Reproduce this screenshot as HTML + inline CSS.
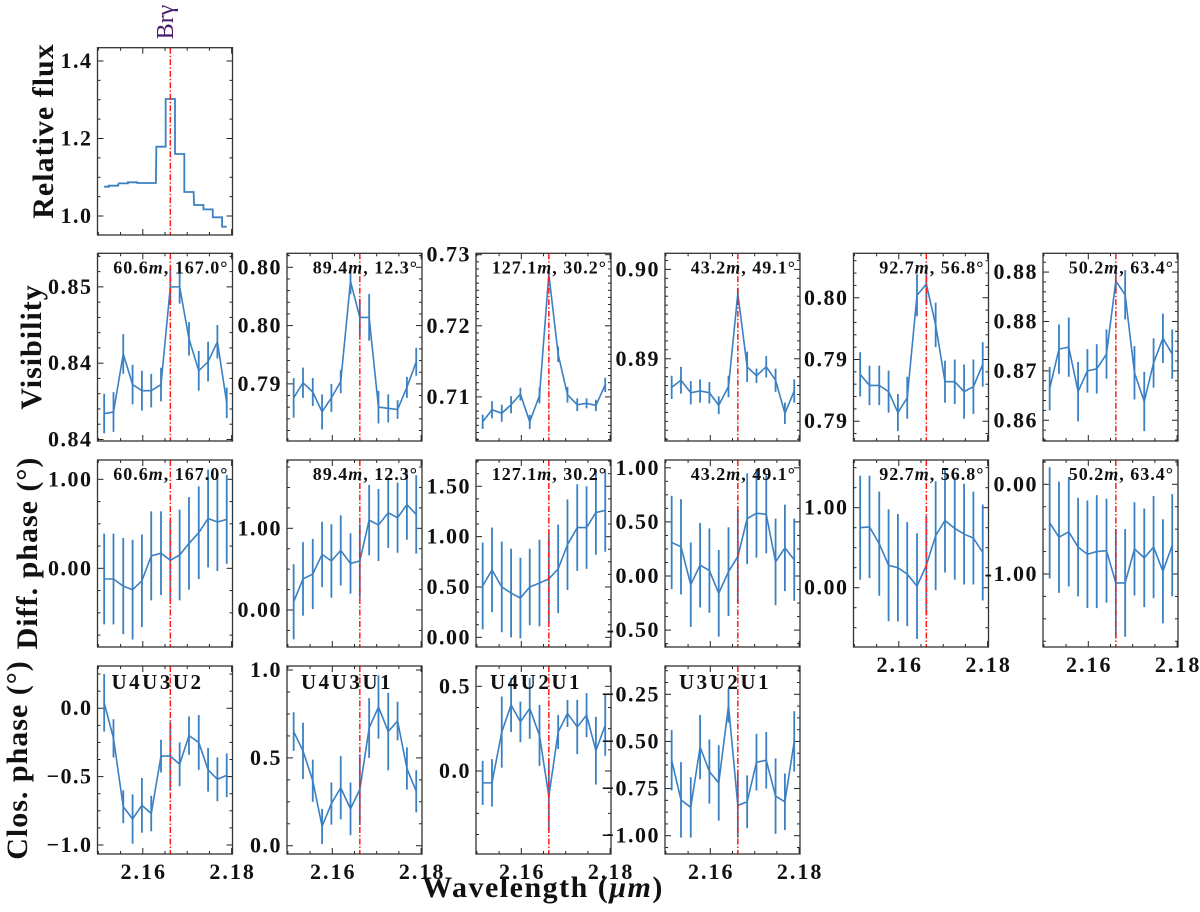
<!DOCTYPE html>
<html><head><meta charset="utf-8">
<style>
html,body{margin:0;padding:0;background:#fff;}
svg{display:block;}
text{font-family:"Liberation Serif",serif;font-weight:bold;fill:#111;}
</style></head>
<body>
<svg id="fig" width="1200" height="912" viewBox="0 0 1200 912" xmlns="http://www.w3.org/2000/svg"></svg>
<script>
// ---- data ----
const wavelengths = [2.1513,2.1534,2.1556,2.1577,2.1598,2.1619,2.1641,2.1662,2.1683,2.1704,2.1726,2.1747,2.1768,2.1789];
const fluxValues = [1.0757,1.0783,1.0843,1.0869,1.0852,1.0852,1.1789,1.3019,1.1600,1.0619,1.0284,1.0172,0.9966,0.9725];
const brGamma = 2.1662;
const baselineLabels = ["60.6m","89.4m","127.1m","43.2m","92.7m","50.2m"];
const angleLabels = ["167.0°","12.3°","30.2°","49.1°","56.8°","63.4°"];
const triangleLabels = ["U4U3U2","U4U3U1","U4U2U1","U3U2U1"];
const vis1 = [0.8417,0.8418,0.8456,0.8436,0.8432,0.8432,0.8436,0.8500,0.8500,0.8466,0.8445,0.8451,0.8464,0.8424];
const vis2 = [0.7938,0.7951,0.7943,0.7926,0.7938,0.7952,0.8038,0.8007,0.8007,0.7930,0.7929,0.7928,0.7947,0.7969];
const vis3 = [0.7065,0.7082,0.7077,0.7089,0.7104,0.7065,0.7102,0.7273,0.7160,0.7103,0.7089,0.7091,0.7088,0.7117];
const vis4 = [0.8868,0.8876,0.8862,0.8864,0.8862,0.8848,0.8869,0.8973,0.8891,0.8881,0.8891,0.8876,0.8839,0.8864];
const vis5 = [0.7938,0.7929,0.7929,0.7924,0.7907,0.7919,0.8002,0.8011,0.7978,0.7932,0.7932,0.7924,0.7928,0.7946];
const vis6 = [0.8732,0.8772,0.8774,0.8729,0.8750,0.8752,0.8767,0.8841,0.8827,0.8748,0.8719,0.8758,0.8783,0.8767];
const visErr1 = [0.0013,0.0013,0.0013,0.0013,0.0013,0.0011,0.0011,0.0012,0.0011,0.0011,0.0013,0.0013,0.0011,0.0010];
const visErr2 = [0.0017,0.0013,0.0012,0.0015,0.0012,0.0010,0.0011,0.0016,0.0020,0.0014,0.0012,0.0008,0.0009,0.0012];
const visErr3 = [0.0010,0.0012,0.0012,0.0012,0.0009,0.0010,0.0011,0.0008,0.0011,0.0011,0.0009,0.0007,0.0008,0.0010];
const visErr4 = [0.0013,0.0015,0.0013,0.0013,0.0012,0.0010,0.0012,0.0006,0.0017,0.0008,0.0012,0.0013,0.0012,0.0013];
const visErr5 = [0.0018,0.0016,0.0016,0.0017,0.0015,0.0017,0.0017,0.0016,0.0018,0.0017,0.0018,0.0022,0.0022,0.0018];
const visErr6 = [0.0022,0.0025,0.0030,0.0030,0.0022,0.0025,0.0025,0.0010,0.0025,0.0027,0.0030,0.0025,0.0025,0.0025];
const dphi1 = [-0.12,-0.12,-0.20,-0.24,-0.14,0.14,0.17,0.09,0.15,0.28,0.40,0.56,0.52,0.55];
const dphi2 = [0.10,0.38,0.44,0.68,0.60,0.73,0.57,0.60,1.10,1.04,1.19,1.13,1.29,1.17];
const dphi3 = [0.51,0.67,0.50,0.44,0.39,0.50,0.54,0.58,0.68,0.92,1.09,1.09,1.24,1.26];
const dphi4 = [0.31,0.27,-0.08,0.10,0.05,-0.16,0.04,0.18,0.53,0.58,0.57,0.13,0.26,0.15];
const dphi5 = [0.75,0.76,0.55,0.28,0.25,0.17,0.02,0.28,0.65,0.84,0.74,0.67,0.62,0.44];
const dphi6 = [-0.43,-0.59,-0.53,-0.70,-0.78,-0.75,-0.74,-1.10,-1.10,-0.72,-0.82,-0.70,-0.97,-0.68];
const dphiErr1 = [0.51,0.51,0.54,0.56,0.52,0.50,0.47,0.45,0.51,0.52,0.52,0.55,0.55,0.50];
const dphiErr2 = [0.46,0.45,0.43,0.40,0.45,0.43,0.37,0.45,0.43,0.44,0.43,0.43,0.43,0.48];
const dphiErr3 = [0.43,0.42,0.45,0.44,0.40,0.38,0.43,0.44,0.44,0.45,0.43,0.41,0.42,0.41];
const dphiErr4 = [0.43,0.44,0.39,0.39,0.39,0.40,0.41,0.43,0.42,0.41,0.36,0.40,0.40,0.38];
const dphiErr5 = [0.65,0.64,0.65,0.70,0.67,0.65,0.66,0.62,0.68,0.65,0.64,0.63,0.58,0.60];
const dphiErr6 = [0.62,0.62,0.61,0.55,0.60,0.63,0.58,0.60,0.60,0.52,0.55,0.57,0.58,0.57];
const cp1 = [0.04,-0.22,-0.72,-0.81,-0.71,-0.77,-0.35,-0.35,-0.41,-0.20,-0.25,-0.45,-0.52,-0.49];
const cp2 = [0.65,0.54,0.37,0.11,0.24,0.33,0.21,0.32,0.67,0.79,0.65,0.71,0.44,0.31];
const cp3 = [-0.07,-0.07,0.23,0.39,0.29,0.37,0.21,-0.15,0.23,0.34,0.26,0.33,0.12,0.27];
const cp4 = [-0.60,-0.81,-0.85,-0.53,-0.66,-0.72,-0.31,-0.84,-0.82,-0.61,-0.60,-0.79,-0.82,-0.50];
const cpErr1 = [0.21,0.14,0.12,0.18,0.20,0.13,0.12,0.25,0.16,0.14,0.20,0.16,0.16,0.16];
const cpErr2 = [0.11,0.16,0.12,0.10,0.12,0.18,0.15,0.20,0.17,0.18,0.22,0.11,0.12,0.12];
const cpErr3 = [0.13,0.14,0.21,0.16,0.12,0.18,0.18,0.20,0.10,0.08,0.16,0.13,0.20,0.18];
const cpErr4 = [0.16,0.20,0.16,0.17,0.17,0.20,0.09,0.17,0.14,0.15,0.15,0.20,0.15,0.16];
const xTicks = [2.16,2.18];
const xTickLabels = ["2.16","2.18"];
</script>
<script>
const svg = document.getElementById('fig');
const NS = 'http://www.w3.org/2000/svg';
const BLUE = '#3a80c2';
const XMIN = 2.1498, XMAX = 2.1802;
const colL = [97.5,287,476,665,853.5,1043];
const W = 135;
function mk(tag, attrs, parent){
  const e = document.createElementNS(NS, tag);
  for (const k in attrs) e.setAttribute(k, attrs[k]);
  (parent||svg).appendChild(e);
  return e;
}
function panel(o){
  const g = mk('g', {});
  
  
  const L=o.x, T=o.top, B=o.bottom, H=B-T;
  const xs = w => L + (w-XMIN)/(XMAX-XMIN)*W;
  const ys = v => B - (v-o.ymin)/(o.ymax-o.ymin)*H;
  const tk = mk('g', {stroke:'#222','stroke-width':1}, g);
  
  
  for (let w=2.15; w<=2.1801; w+=0.005){
    const major = Math.abs(w-2.16)<1e-6 || Math.abs(w-2.18)<1e-6;
    const len = major?6:3, X=xs(w);
    mk('line',{x1:X,y1:B,x2:X,y2:B-len},tk);
    mk('line',{x1:X,y1:T,x2:X,y2:T+len},tk);
  }
  const start = Math.ceil(o.ymin/o.minor-1e-6)*o.minor;
  for (let v=start; v<=o.ymax+1e-9; v+=o.minor){
    const major = o.yticks.some(t=>Math.abs(t-v)<o.minor*0.1);
    const len = major?6:3, Y=ys(v);
    mk('line',{x1:L,y1:Y,x2:L+len,y2:Y},tk);
    mk('line',{x1:L+W,y1:Y,x2:L+W-len,y2:Y},tk);
  }
  o.yticks.forEach((t,i)=>{
    const lab = mk('text',{x:L-5,y:ys(t)+7,'text-anchor':'end','font-size':22,'letter-spacing':1.5},g);
    lab.textContent = o.ylabels[i];
    
    
  });
  if (o.xlabels){
    xTicks.forEach((t,i)=>{
      const lab = mk('text',{x:xs(t)+1,y:B+25,'text-anchor':'middle','font-size':22,'letter-spacing':2},g);
      lab.textContent = xTickLabels[i];
      
      
    });
  }
  if (o.step){
    let d='';
    const half = (wavelengths[1]-wavelengths[0])/2;
    o.values.forEach((v,i)=>{
      const x0 = xs(wavelengths[i]-(i===0?0:half)), x1 = xs(wavelengths[i]+(i===o.values.length-1?0:half));
      d += (i===0?'M':'L')+x0+','+ys(v)+'L'+x1+','+ys(v);
    });
    const p = mk('path',{d:d,fill:'none',stroke:BLUE,'stroke-width':1.8},g);
    
    
  } else {
    o.values.forEach((v,i)=>{
      const X=xs(wavelengths[i]);
      const eb = mk('line',{x1:X,x2:X,y1:ys(v-o.err[i]),y2:ys(v+o.err[i]),stroke:BLUE,'stroke-width':1.8},g);
      
      
    });
    const pts = o.values.map((v,i)=>xs(wavelengths[i])+','+ys(v)).join(' ');
    const pl = mk('polyline',{points:pts,fill:'none',stroke:BLUE,'stroke-width':1.6},g);
    
    
  }
  const bl = mk('line',{x1:xs(brGamma),x2:xs(brGamma),y1:T,y2:B,stroke:'#ff1a1a','stroke-width':1.5,'stroke-dasharray':'6,2,1.5,2'},g);
  
  
  if (o.note){
    const t = mk('text',{x:L+W-4,y:T+20,'text-anchor':'end','font-size':18,'letter-spacing':1},g);
    
    
    const a = mk('tspan',{},t); a.textContent = o.note[0].slice(0,-1);
    const m = mk('tspan',{'font-style':'italic'},t); m.textContent = 'm';
    const c = mk('tspan',{},t); c.textContent = ', '+o.note[1];
  }
  if (o.tri){
    const t = mk('text',{x:L+14,y:T+23,'font-size':21,'letter-spacing':2.5},g);
    t.textContent = o.tri;
    
    
  }
  mk('rect',{x:L,y:T,width:W,height:H,fill:'none',stroke:'#333','stroke-width':1.3},g);
}
panel({name:'flux-panel',x:colL[0],top:47.7,bottom:235,ymin:0.951,ymax:1.4343,yticks:[1.4,1.2,1.0],ylabels:['1.4','1.2','1.0'],minor:0.05,values:fluxValues,step:true});
const visV=[vis1,vis2,vis3,vis4,vis5,vis6], visE=[visErr1,visErr2,visErr3,visErr4,visErr5,visErr6];
const visR=[[0.8399,0.8522],[0.7901,0.8062],[0.7038,0.7302],[0.8808,0.9018],[0.7884,0.8036],[0.8679,0.8869]];
const visT=[[0.850,0.845,0.840],[0.805,0.800,0.795],[0.73,0.72,0.71],[0.90,0.89],[0.800,0.795,0.790],[0.885,0.880,0.875,0.870]];
const visL=[['0.85','0.84','0.84'],['0.80','0.80','0.79'],['0.73','0.72','0.71'],['0.90','0.89'],['0.80','0.79','0.79'],['0.88','0.88','0.87','0.86']];
for (let c=0;c<6;c++) panel({name:'visibility-panel-'+(c+1),x:colL[c],top:253.3,bottom:441,ymin:visR[c][0],ymax:visR[c][1],yticks:visT[c],ylabels:visL[c],minor:0.001,values:visV[c],err:visE[c],note:[baselineLabels[c],angleLabels[c]]});
const dpV=[dphi1,dphi2,dphi3,dphi4,dphi5,dphi6], dpE=[dphiErr1,dphiErr2,dphiErr3,dphiErr4,dphiErr5,dphiErr6];
const dpR=[[-0.884,1.217],[-0.453,1.836],[-0.096,1.761],[-0.656,1.072],[-0.741,1.596],[-1.814,0.271]];
const dpT=[[1,0],[1,0],[1.5,1,0.5,0],[1,0.5,0,-0.5],[1,0],[0,-1]];
const dpL=[['1.00','0.00'],['1.00','0.00'],['1.50','1.00','0.50','0.00'],['1.00','0.50','0.00','-0.50'],['1.00','0.00'],['0.00','-1.00']];
const dpM=[0.25,0.25,0.125,0.125,0.25,0.25];
for (let c=0;c<6;c++) panel({name:'diff-phase-panel-'+(c+1),x:colL[c],top:460,bottom:647,ymin:dpR[c][0],ymax:dpR[c][1],yticks:dpT[c],ylabels:dpL[c],minor:dpM[c],values:dpV[c],err:dpE[c],note:[baselineLabels[c],angleLabels[c]],xlabels:c>=4});
const cpV=[cp1,cp2,cp3,cp4], cpE=[cpErr1,cpErr2,cpErr3,cpErr4];
const cpR=[[-1.066,0.309],[-0.047,1.023],[-0.49,0.62],[-1.097,-0.10]];
const cpT=[[0,-0.5,-1],[1,0.5,0],[0.5,0],[-0.25,-0.5,-0.75,-1.0]];
const cpL=[['0.0','−0.5','−1.0'],['1.0','0.5','0.0'],['0.5','0.0'],['−0.25','−0.50','−0.75','−1.00']];
const cpM=[0.125,0.125,0.125,0.0625];
for (let c=0;c<4;c++) panel({name:'closure-phase-panel-'+(c+1),x:colL[c],top:666,bottom:854,ymin:cpR[c][0],ymax:cpR[c][1],yticks:cpT[c],ylabels:cpL[c],minor:cpM[c],values:cpV[c],err:cpE[c],tri:triangleLabels[c],xlabels:true});
function title(txt,x,y,rot,name){
  const t = mk('text',{x:x,y:y,'text-anchor':'middle','font-size':30,'letter-spacing':1,transform:rot?('rotate(-90 '+x+' '+y+')'):''});
  t.textContent = txt;
  
  
}
title('Relative flux',53,131,true,'flux-axis-title');
title('Visibility',41,347,true,'visibility-axis-title');
title('Diff. phase (°)',37,553,true,'diff-phase-axis-title');
title('Clos. phase (°)',27,760,true,'closure-phase-axis-title');
const wl = mk('text',{x:543,y:897,'text-anchor':'middle','font-size':30,'letter-spacing':1.5});


const w1 = mk('tspan',{},wl); w1.textContent='Wavelength (';
const w2 = mk('tspan',{'font-style':'italic'},wl); w2.textContent='μm';
const w3 = mk('tspan',{},wl); w3.textContent=')';
const br = mk('text',{x:173,y:22,'text-anchor':'middle','font-size':24,transform:'rotate(-90 173 22)',style:'fill:#4a1a6a;font-weight:normal'});
br.textContent='Brγ';


</script>
</body></html>
